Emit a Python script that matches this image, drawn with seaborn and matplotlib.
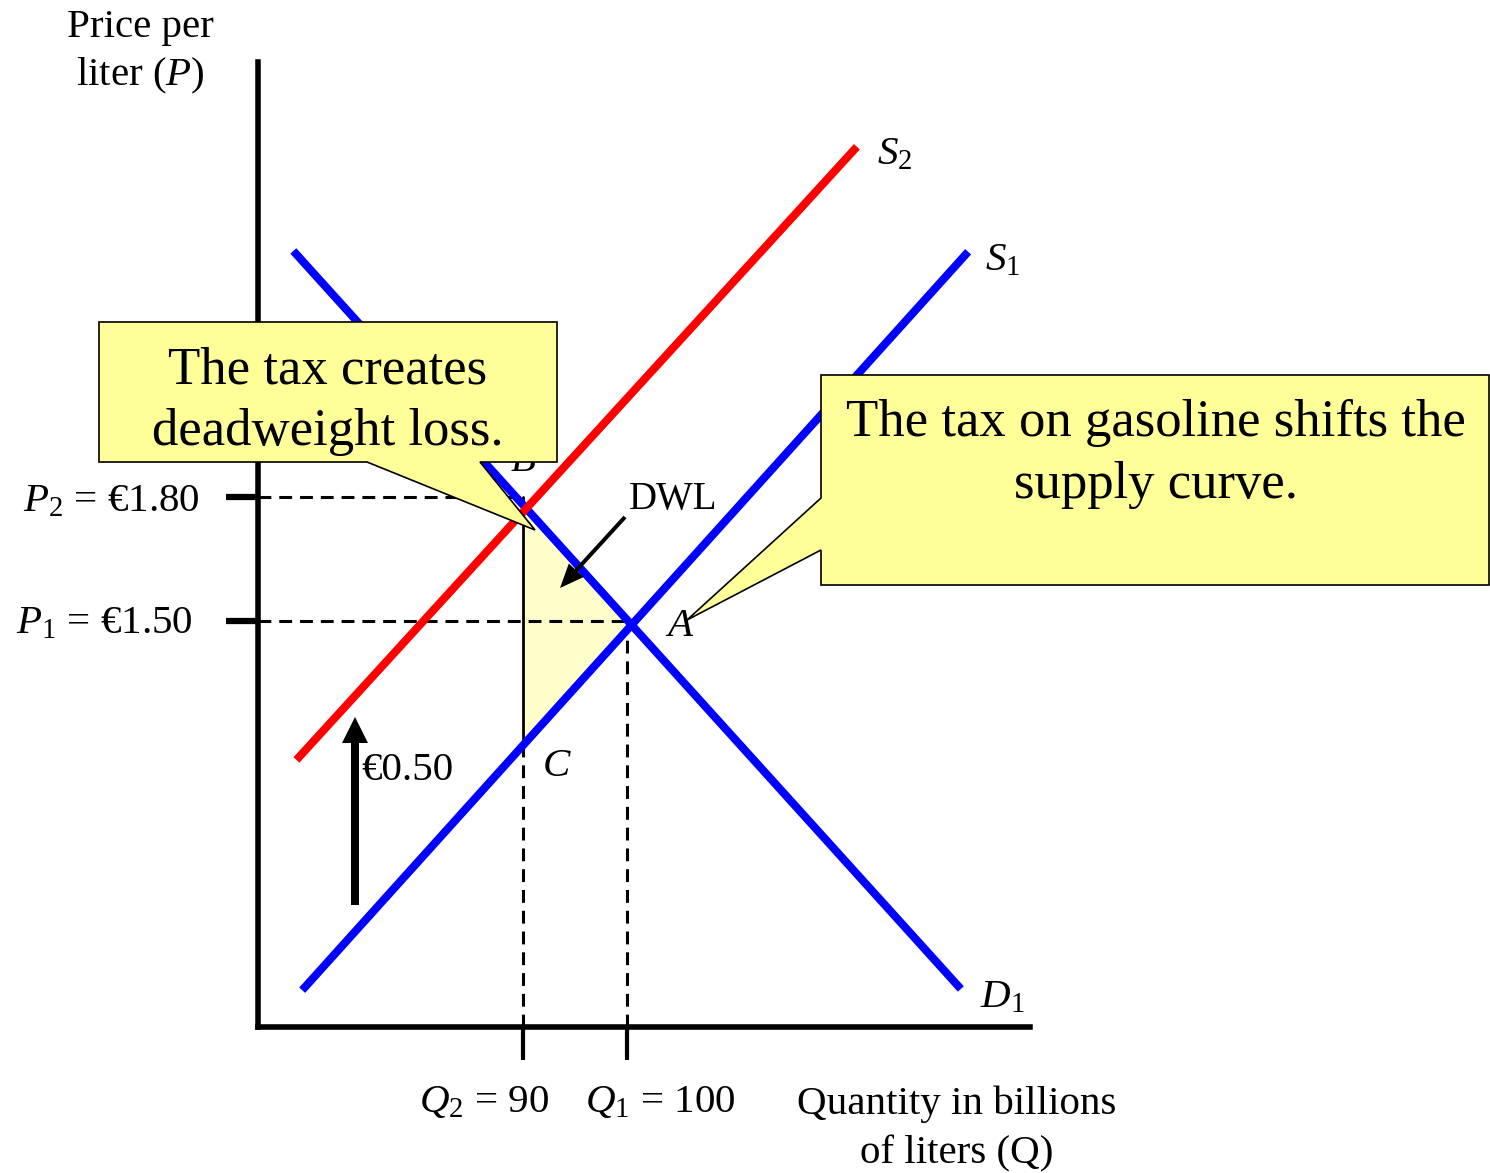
import numpy as np
import pandas as pd
import matplotlib
matplotlib.use("Agg")
import matplotlib.pyplot as plt
from matplotlib.patches import Polygon, FancyArrow
from matplotlib.transforms import IdentityTransform
import seaborn as sns

W, H = 1490, 1173

# curve end points, quantity (billions of liters) and price (euro per liter)
curve_names = ["D1", "D1", "S1", "S1", "S2", "S2"]
curve_q = [67.9, 132.1, 68.75, 132.8, 68.2, 122.1]
curve_p = [2.395, 0.61, 0.607, 2.393, 1.164, 2.647]
curve_colors = {"D1": "#0000FF", "S1": "#0000FF", "S2": "#FF0000"}

# equilibrium values: after tax (2) and before tax (1)
q_eq = [90, 100]
p_eq = [1.80, 1.50]
q_labels = [r"$Q_2$ = 90", r"$Q_1$ = 100"]
p_labels = [r"$P_2$ = €1.80", r"$P_1$ = €1.50"]
tax_label = "€0.50"

q_lim = (64.5, 138.75)
p_lim = (0.518, 2.852)

df = pd.DataFrame({"curve": curve_names, "Q": curve_q, "P": curve_p})


def line_of(name):
    d = df[df["curve"] == name]
    return d["Q"].to_numpy(), d["P"].to_numpy()


def pix(x, y):
    # image pixel (top-left origin) -> display coords
    return x, H - y


sns.set_style("white")
plt.rcParams["font.family"] = ["Liberation Serif", "DejaVu Serif"]
plt.rcParams["text.color"] = "black"
plt.rcParams["mathtext.fontset"] = "custom"
plt.rcParams["mathtext.rm"] = "Liberation Serif"
plt.rcParams["mathtext.it"] = "Liberation Serif:italic"

fig = plt.figure(figsize=(W / 100, H / 100), dpi=100)
ax = fig.add_axes([258 / W, 1 - 1027 / H, 772 / W, 965 / H])
ax.set_xlim(*q_lim)
ax.set_ylim(*p_lim)

# dead weight loss triangle from the curves
dq, dp = line_of("D1")
sq, sp = line_of("S1")
q2, q1 = q_eq
p2, p1 = p_eq
b_p = np.interp(q2, dq, dp)
c_p = np.interp(q2, sq, sp)
ds = np.polyfit(dq, dp, 1)
ss = np.polyfit(sq, sp, 1)
a_q = (ss[1] - ds[1]) / (ds[0] - ss[0])
a_p = np.polyval(ds, a_q)
ax.fill([q2, q2, a_q], [b_p, c_p, a_p], color="#FFFFCC", zorder=1, lw=0)

# guide lines
dash = dict(color="black", lw=2.2, dashes=(4.2, 2.6), zorder=2)
ax.plot([q_lim[0], q2], [p2, p2], **dash)
ax.plot([q_lim[0], q1], [p1, p1], **dash)
ax.plot([q2, q2], [p_lim[0], c_p], **dash)
ax.plot([q1, q1], [p_lim[0], p1], **dash)
ax.plot([q2, q2], [c_p, p2], color="black", lw=2, zorder=2)

sns.lineplot(data=df, x="Q", y="P", hue="curve", palette=curve_colors,
             estimator=None, sort=False, legend=False, linewidth=5.8,
             solid_capstyle="butt", ax=ax, zorder=3)

ax.set_xlabel("")
ax.set_ylabel("")
ax.set_xticks(q_eq)
ax.set_xticklabels([])
ax.set_yticks(p_eq)
ax.set_yticklabels([])
ax.tick_params(axis="x", bottom=True, length=24, width=3, direction="out", color="black")
ax.tick_params(axis="y", left=True, length=23, width=4.5, direction="out", color="black")
for s in ["top", "right"]:
    ax.spines[s].set_visible(False)
for s in ["left", "bottom"]:
    ax.spines[s].set_linewidth(4)
    ax.spines[s].set_color("black")

# B is hidden behind the callout, so it lives in the axes
ax.text(90, 1.885, "$B$", fontsize=29.5, ha="center", va="center",
        clip_on=False, zorder=4)

fs = 29.5
def label(x, y, s, ha="left", size=fs, va="center"):
    fig.text(x / W, 1 - (y + 3) / H, s, fontsize=size, ha=ha, va=va)

label(140, 25, "Price per", ha="center")
label(140, 73, "liter ($P$)", ha="center")
label(200, 499, p_labels[0], ha="right")
label(193, 621, p_labels[1], ha="right")
label(484, 1100, q_labels[0], ha="center")
label(660, 1100, q_labels[1], ha="center")
label(957, 1101, "Quantity in billions", ha="center")
label(957, 1151, "of liters (Q)", ha="center")
label(877, 152, "$S_2$")
label(985, 258, "$S_1$")
label(980, 995, "$D_1$")
label(665, 623, "$A$")
label(542, 764, "$C$")
label(629, 497, "DWL", size=28)
label(361, 768, tax_label)

# arrows
fig.add_artist(FancyArrow(*pix(625, 517), -65, -71, width=4, head_width=20,
                          head_length=24, length_includes_head=True,
                          color="black", lw=0, transform=IdentityTransform()))
fig.add_artist(FancyArrow(*pix(355, 905), 0, 188, width=8, head_width=26,
                          head_length=26, length_includes_head=True,
                          color="black", lw=0, transform=IdentityTransform()))

# callouts
call1 = [(99, 322), (557, 322), (557, 462), (480, 462), (535, 530), (367, 462), (99, 462)]
call2 = [(821, 375), (1489, 375), (1489, 585), (821, 585), (821, 550), (687, 620), (821, 498)]
for pts in (call1, call2):
    fig.add_artist(Polygon([pix(x, y) for x, y in pts], closed=True,
                           facecolor="#FFFF99", edgecolor="black", lw=1.2,
                           transform=IdentityTransform(), zorder=4))

fs_call = 38
for x, y, s in [(328, 383, "The tax creates"), (328, 445, "deadweight loss."),
                (1156, 436, "The tax on gasoline shifts the"), (1156, 498, "supply curve.")]:
    t = fig.text(x / W, 1 - y / H, s, fontsize=fs_call, ha="center", va="baseline")
    t.set_zorder(5)

fig.savefig("out.png", dpi=100)
